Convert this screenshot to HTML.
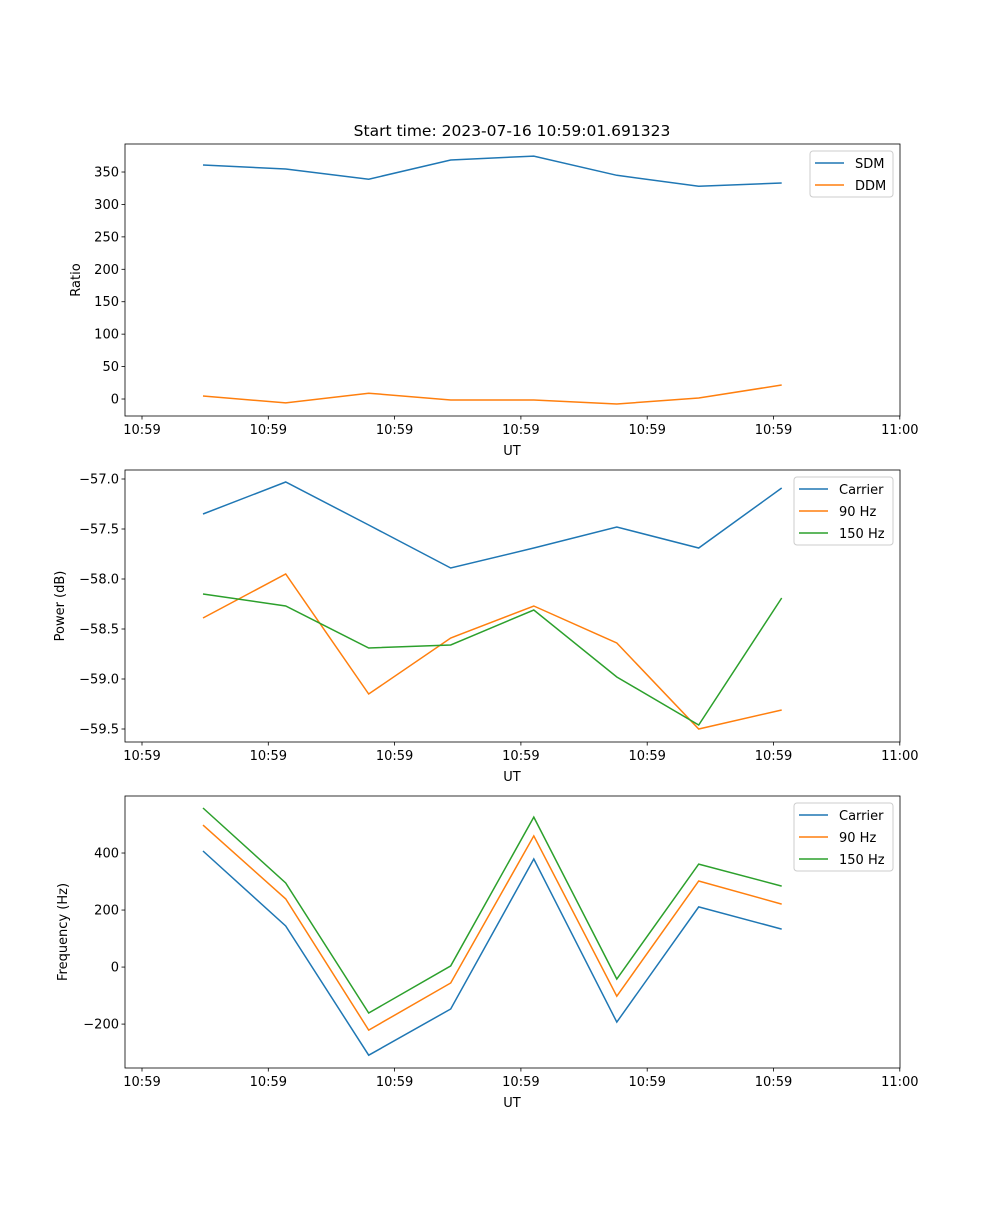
<!DOCTYPE html>
<html><head><meta charset="utf-8"><style>
body{margin:0;background:#fff;}
svg text{font-family:"DejaVu Sans","Liberation Sans",sans-serif;font-size:13px;fill:#000;}
</style></head><body>
<svg id="c" width="1000" height="1200" xmlns="http://www.w3.org/2000/svg">
<text x="512" y="136" text-anchor="middle" style="font-size:15.5px">Start time: 2023-07-16 10:59:01.691323</text>
</svg>
<script>
const times=[0.483,1.138,1.795,2.444,3.102,3.759,4.408,5.065];
const xTicks=[0,1,2,3,4,5,6];
const xTickLabels=["10:59","10:59","10:59","10:59","10:59","10:59","11:00"];
const sdm=[360.8,354.6,339,368.5,374.6,345,328,333];
const ddm=[4.6,-6,9,-1.5,-1.5,-7.7,1.5,21.6];
const ratioTicks=[0,50,100,150,200,250,300,350];
const pCarrier=[-57.35,-57.03,-57.46,-57.89,-57.69,-57.48,-57.69,-57.09];
const p90=[-58.39,-57.95,-59.15,-58.59,-58.27,-58.64,-59.5,-59.31];
const p150=[-58.15,-58.27,-58.69,-58.66,-58.31,-58.98,-59.46,-58.19];
const powerTicks=[-59.5,-59.0,-58.5,-58.0,-57.5,-57.0];
const powerTickLabels=["\u221259.5","\u221259.0","\u221258.5","\u221258.0","\u221257.5","\u221257.0"];
const fCarrier=[407,144,-309,-147,379,-193,211,133];
const f90=[498,239,-221,-56,460,-102,302,221];
const f150=[558,295,-161,4,526,-42,361,284];
const freqTicks=[-200,0,200,400];
const freqTickLabels=["\u2212200","0","200","400"];

const NS="http://www.w3.org/2000/svg";
const svg=document.getElementById('c');
const C=['#1f77b4','#ff7f0e','#2ca02c'];
function mk(t,a,p){const e=document.createElementNS(NS,t);for(const k in a)e.setAttribute(k,a[k]);(p||svg).appendChild(e);return e;}
const L=125,R=900;
const xs=t=>142+(t-0)*126.3;
function panel(name,top,bot,ymin,ymax,yt,ytl,ylab,series,names,leg){
  const g=mk('g',{});
  
  
  const ys=v=>bot-(v-ymin)/(ymax-ymin)*(bot-top);
  series.forEach((s,i)=>{
    const pl=mk('polyline',{points:s.map((v,j)=>xs(times[j]).toFixed(1)+','+ys(v).toFixed(1)).join(' '),fill:'none',stroke:C[i],'stroke-width':1.5},g);
    
    
  });
  const fr=mk('rect',{x:L,y:top,width:R-L,height:bot-top,fill:'none',stroke:'#000','stroke-width':0.8},g);
  
  
  xTicks.forEach((t,i)=>{const x=xs(t);mk('line',{x1:x,x2:x,y1:bot,y2:bot+3.5,stroke:'#000','stroke-width':0.8},g);
    const tx=mk('text',{x:x,y:bot+18,'text-anchor':'middle'},g);tx.textContent=xTickLabels[i];
    
    });
  yt.forEach((v,i)=>{const y=ys(v);mk('line',{x1:L-3.5,x2:L,y1:y,y2:y,stroke:'#000','stroke-width':0.8},g);
    const tx=mk('text',{x:L-6,y:y+4.5,'text-anchor':'end'},g);tx.textContent=ytl?ytl[i]:String(v);
    
    });
  const xl=mk('text',{x:512,y:bot+39,'text-anchor':'middle'},g);xl.textContent='UT';
  
  
  const cy=(top+bot)/2;
  const yl=mk('text',{x:0,y:0,'text-anchor':'middle',transform:`translate(${leg.ylx},${cy}) rotate(-90)`},g);yl.textContent=ylab;
  
  
  const lg=mk('g',{},g);
  
  
  mk('rect',{x:leg.x,y:top+7,width:R-7-leg.x,height:names.length*22+2,rx:3,fill:'#fff',stroke:'#ccc','stroke-width':1},lg);
  names.forEach((n,i)=>{const y=top+19+i*22;
    mk('line',{x1:leg.x+5,x2:leg.x+34,y1:y,y2:y,stroke:C[i],'stroke-width':1.5},lg);
    const t=mk('text',{x:leg.x+45,y:y+5},lg);t.textContent=n;
    
    });
}
panel('ratio',144,416,-26.2,393.2,ratioTicks,null,'Ratio',[sdm,ddm],['SDM','DDM'],{x:810,ylx:80});
panel('power',470,742,-59.63,-56.91,powerTicks,powerTickLabels,'Power (dB)',[pCarrier,p90,p150],['Carrier','90 Hz','150 Hz'],{x:794,ylx:64});
panel('frequency',796,1068,-354,600,freqTicks,freqTickLabels,'Frequency (Hz)',[fCarrier,f90,f150],['Carrier','90 Hz','150 Hz'],{x:794,ylx:67});
</script>
</body></html>
